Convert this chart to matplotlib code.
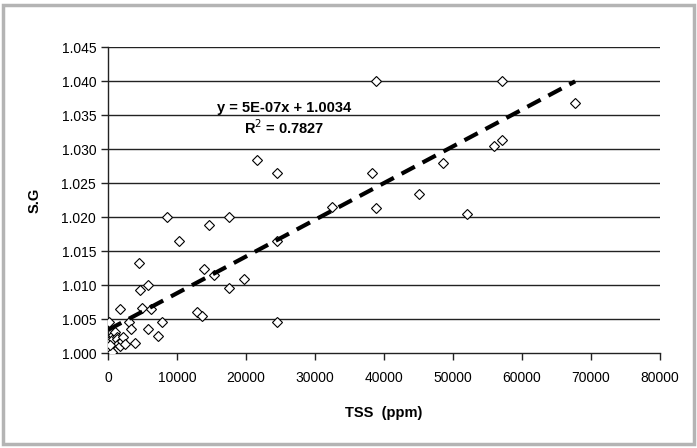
import numpy as np
import matplotlib
matplotlib.use('Agg')
import matplotlib.pyplot as plt
from matplotlib.patches import Rectangle

plt.rcParams['font.family'] = ['Liberation Sans', 'DejaVu Sans']

# TSS (ppm) vs specific gravity
tss = [50, 190, 290, 290, 530, 770, 770, 1010, 1260, 1350, 1500, 1740, 1980,
       2220, 2460, 290, 190, 1800, 3040, 3330, 3910, 4600, 4540, 4870, 5750,
       5750, 6200, 7290, 7780, 8600, 10240, 12940, 13600, 13910, 14690, 15300,
       17500, 17540, 19750, 21640, 24500, 24500, 24500, 32400, 38300, 38800,
       38800, 45000, 48600, 52000, 56000, 57150, 57150, 67700]
sg = [1.0019, 1.0018, 1.0010, 1.0004, 1.0002, 1.0026, 1.0020, 1.0031, 1.0024,
      1.0021, 1.0014, 1.0010, 1.0017, 1.0024, 1.0014, 1.0012, 1.0045, 1.0065,
      1.0045, 1.0035, 1.0015, 1.0093, 1.0133, 1.0066, 1.0100, 1.0035, 1.0065,
      1.0025, 1.0045, 1.0200, 1.0165, 1.0060, 1.0055, 1.0124, 1.0189, 1.0115,
      1.0095, 1.0200, 1.0109, 1.0284, 1.0265, 1.0165, 1.0045, 1.0215, 1.0265,
      1.0214, 1.0400, 1.0234, 1.0279, 1.0204, 1.0304, 1.0313, 1.0400, 1.0368]

slope = 5.4e-07
intercept = 1.0034
eq_text = "y = 5E-07x + 1.0034"
r2_text = "R$^2$ = 0.7827"

x_ticks = np.arange(0, 80001, 10000)
y_ticks = np.arange(1.000, 1.0451, 0.005)

fig = plt.figure(figsize=(6.97, 4.48), dpi=100)
fig.patch.set_facecolor('white')
fig.patches.append(Rectangle((0.005, 0.009), 0.99, 0.98, transform=fig.transFigure,
                             fill=False, edgecolor='#b4b4b4', linewidth=2.5))

ax = fig.add_axes([0.155, 0.212, 0.792, 0.683])
ax.set_xlim(0, 80000)
ax.set_ylim(1.000, 1.045)
ax.set_xticks(x_ticks)
ax.set_yticks(y_ticks)
ax.set_xticklabels([str(int(v)) for v in x_ticks])
ax.set_yticklabels([f"{v:.3f}" for v in y_ticks])
ax.tick_params(direction='out', length=5, width=1, colors='#222222',
               labelsize=10, labelcolor='black')
ax.tick_params(axis='x', pad=8)

for v in y_ticks[1:]:
    ax.axhline(v, color='#222222', linewidth=1, zorder=1)

for side in ['top', 'right']:
    ax.spines[side].set_visible(False)
for side in ['left', 'bottom']:
    ax.spines[side].set_color('#222222')
    ax.spines[side].set_linewidth(1)

ax.plot(tss, sg, linestyle='none', marker='D', markersize=5.2,
        markerfacecolor='white', markeredgecolor='black', markeredgewidth=0.8,
        zorder=3)

xs = np.linspace(0, max(tss), 50)
ax.plot(xs, intercept + slope * xs, color='black', linewidth=3,
        dashes=(3.6, 2.1), zorder=4)

ax.text(25500, 1.0360, eq_text, ha='center', va='center', fontsize=10.5,
        fontweight='bold')
ax.text(25500, 1.0332, r2_text, ha='center', va='center', fontsize=10.5,
        fontweight='bold')

ax.set_xlabel("TSS  (ppm)", fontsize=10.5, fontweight='bold', labelpad=15)
ax.set_ylabel("S.G", fontsize=10.5, fontweight='bold', labelpad=14)

plt.savefig('out.png', dpi=100)
plt.close()
